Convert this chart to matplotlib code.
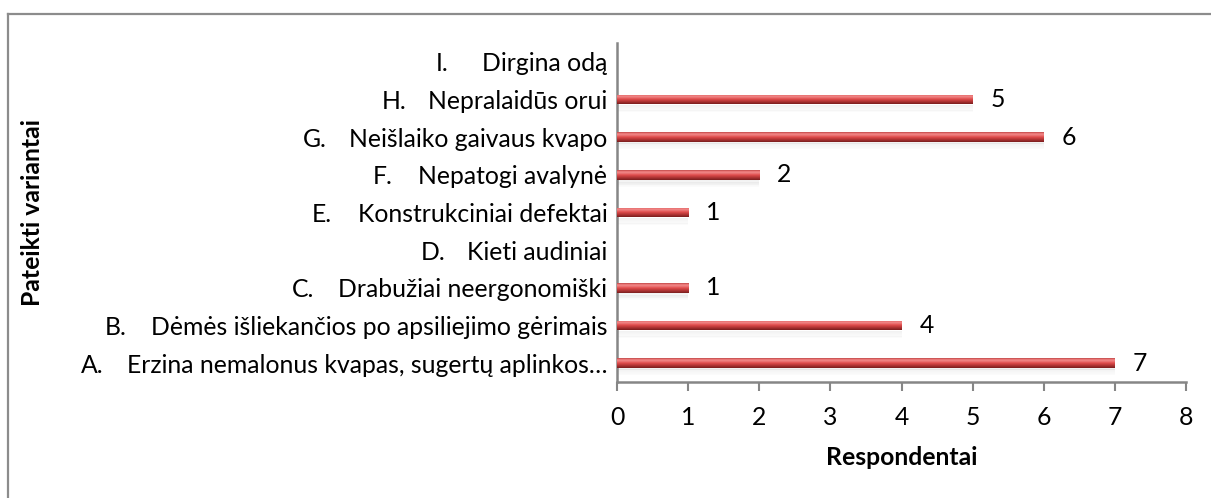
import numpy as np
import matplotlib.pyplot as plt
from matplotlib.colors import LinearSegmentedColormap
from matplotlib.lines import Line2D

plt.rcParams['font.family'] = ['Lato', 'DejaVu Sans']

# data (bottom -> top)
prefixes = ['A.', 'B.', 'C.', 'D.', 'E.', 'F.', 'G.', 'H.', 'I.']
labels = ['Erzina nemalonus kvapas, sugertų aplinkos…',
          'Dėmės išliekančios po apsiliejimo gėrimais',
          'Drabužiai neergonomiški',
          'Kieti audiniai',
          'Konstrukciniai defektai',
          'Nepatogi avalynė',
          'Neišlaiko gaivaus kvapo',
          'Nepralaidūs orui',
          'Dirgina odą']
values = [7, 4, 1, None, 1, 2, 6, 5, None]
xticks = [0, 1, 2, 3, 4, 5, 6, 7, 8]

W, H = 1211, 498
fig = plt.figure(figsize=(W / 100, H / 100), dpi=100)
ax = fig.add_axes([617 / W, 1 - 382 / H, (1186 - 617) / W, (382 - 43) / H])

grey = '#868686'
fs = 17.8
bar_h = 0.25

# red "cylinder" gradient for the bars
cyl = LinearSegmentedColormap.from_list('cyl', [
    (0.0, '#7a1e1e'), (0.25, '#b03434'), (0.5, '#e04c4c'),
    (0.75, '#f08888'), (0.9, '#e87070'), (1.0, '#b84444')])
grad = np.linspace(0, 1, 64).reshape(-1, 1)

ypos = np.arange(len(labels))
for y, v in zip(ypos, values):
    if v is None:
        continue
    # soft shadow under the bar
    for k in range(6):
        ax.barh(y - bar_h / 2 - 0.03 - k * 0.03, v, height=0.04, left=0,
                color='#000000', alpha=0.05 - k * 0.007, lw=0, zorder=1)
    bar = ax.barh(y, v, height=bar_h, color='#e04c4c', lw=0, zorder=2)[0]
    im = ax.imshow(grad, cmap=cyl, aspect='auto', origin='lower',
                   extent=[0, v, y - bar_h / 2, y + bar_h / 2], zorder=3)
    im.set_clip_path(bar)
    ax.annotate(str(v), (v, y), xytext=(13, 0), textcoords='offset points',
                ha='left', va='center', fontsize=fs, color='black')

ax.set_xlim(0, 8)
ax.set_ylim(-0.5, len(labels) - 0.5)
ax.set_xticks(xticks)
ax.set_xticklabels([str(t) for t in xticks], fontsize=fs)
ax.set_yticks(ypos)
ax.set_yticklabels(labels, fontsize=fs)
ax.tick_params(axis='y', length=0, pad=7)
ax.tick_params(axis='x', direction='out', length=6.5, width=1.5, color=grey, pad=11)

for s in ['top', 'right']:
    ax.spines[s].set_visible(False)
for s in ['left', 'bottom']:
    ax.spines[s].set_color(grey)
    ax.spines[s].set_linewidth(1.8)

ax.set_xlabel('Respondentai', fontsize=fs, fontweight='bold', labelpad=12)
fig.text(33 / W, 1 - 212 / H, 'Pateikti variantai', rotation=90, fontsize=fs,
         fontweight='bold', ha='center', va='center')

# list prefixes placed a fixed distance before the label text
fig.canvas.draw()
renderer = fig.canvas.get_renderer()
for lab, pre in zip(ax.get_yticklabels(), prefixes):
    bb = lab.get_window_extent(renderer)
    yc = (bb.y0 + bb.y1) / 2
    fig.text((bb.x0 - 46) / W, yc / H, pre, fontsize=fs, ha='left', va='center')

# outer frame (top and left edges only visible)
fig.add_artist(Line2D([8 / W, 1], [1 - 14 / H, 1 - 14 / H], color='#8c8c8c',
                      lw=1.6, transform=fig.transFigure))
fig.add_artist(Line2D([8 / W, 8 / W], [1 - 14 / H, 0], color='#8c8c8c',
                      lw=1.6, transform=fig.transFigure))

fig.savefig('out.png', dpi=100)
